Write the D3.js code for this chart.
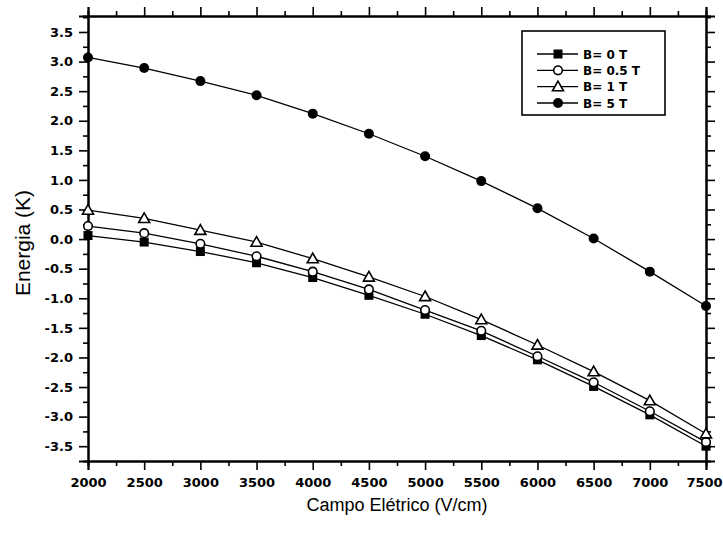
<!DOCTYPE html>
<html>
<head>
<meta charset="utf-8">
<script src="https://cdn.jsdelivr.net/npm/d3@7"></script>
<style>
  html, body { margin: 0; padding: 0; background: #fff; }
  svg { display: block; }
  text { font-family: "Liberation Sans", Arial, sans-serif; fill: #000; }
  .ticklab { font-family: "DejaVu Sans", sans-serif; font-weight: bold; }
</style>
</head>
<body>
<svg id="chart" width="723" height="534"></svg>
<script>
// Electric field values (V/cm)
const fields = [2000, 2500, 3000, 3500, 4000, 4500, 5000, 5500, 6000, 6500, 7000, 7500];

// Energy (K) for each magnetic field
const energyB0   = [0.06, -0.05, -0.21, -0.40, -0.65, -0.95, -1.27, -1.63, -2.04, -2.49, -2.97, -3.50];
const energyB05  = [0.22, 0.10, -0.08, -0.29, -0.55, -0.85, -1.20, -1.55, -1.98, -2.42, -2.91, -3.43];
const energyB1   = [0.49, 0.35, 0.15, -0.05, -0.33, -0.64, -0.97, -1.36, -1.79, -2.24, -2.73, -3.29];
const energyB5   = [3.07, 2.89, 2.67, 2.43, 2.12, 1.78, 1.40, 0.98, 0.52, 0.01, -0.55, -1.13];

const seriesLabels = ["B= 0 T", "B= 0.5 T", "B= 1 T", "B= 5 T"];
const seriesMarkers = ["square", "openCircle", "triangle", "circle"];

const xTicks = [2000, 2500, 3000, 3500, 4000, 4500, 5000, 5500, 6000, 6500, 7000, 7500];
const yTicks = [-3.5, -3.0, -2.5, -2.0, -1.5, -1.0, -0.5, 0.0, 0.5, 1.0, 1.5, 2.0, 2.5, 3.0, 3.5];

const series = [energyB0, energyB05, energyB1, energyB5].map((vals, i) => ({
  label: seriesLabels[i],
  marker: seriesMarkers[i],
  points: fields.map((f, j) => ({ x: f, y: vals[j] }))
}));

const svg = d3.select("#chart");
const plot = { left: 88, right: 706, top: 16, bottom: 461 };

const x = d3.scaleLinear().domain([2000, 7500]).range([plot.left, plot.right]);
const y = d3.scaleLinear().domain([-3.75, 3.77]).range([plot.bottom, plot.top]);

const fmtY = v => v.toFixed(1);

// Minor tick positions (halfway between majors)
const xMinor = d3.range(2250, 7500, 500);
const yMinor = d3.range(-3.75, 3.8, 0.5).filter(v => v > -3.74 && v < 3.76);

function drawAxis(gen, transform) {
  const g = svg.append("g").attr("transform", transform).call(gen);
  g.selectAll("path.domain").attr("stroke", "#000").attr("stroke-width", 2);
  g.selectAll(".tick line").attr("stroke", "#000").attr("stroke-width", 1.6);
  return g;
}

// Bottom axis
const gb = drawAxis(d3.axisBottom(x).tickValues(xTicks).tickFormat(d3.format("d"))
  .tickSizeOuter(0).tickSize(9).tickPadding(8), `translate(0,${plot.bottom})`);
gb.selectAll("text").attr("class", "ticklab").attr("font-size", 13);
// keep the last label inside the page edge
gb.selectAll(".tick text").filter(d => d === 7500).attr("dx", -2);
drawAxis(d3.axisBottom(x).tickValues(xMinor).tickFormat("").tickSizeOuter(0).tickSize(5),
  `translate(0,${plot.bottom})`);

// Top axis
drawAxis(d3.axisTop(x).tickValues(xTicks).tickFormat("").tickSizeOuter(0).tickSize(9),
  `translate(0,${plot.top})`);
drawAxis(d3.axisTop(x).tickValues(xMinor).tickFormat("").tickSizeOuter(0).tickSize(5),
  `translate(0,${plot.top})`);

// Left axis
const gl = drawAxis(d3.axisLeft(y).tickValues(yTicks).tickFormat(fmtY)
  .tickSizeOuter(0).tickSize(9).tickPadding(6), `translate(${plot.left},0)`);
gl.selectAll("text").attr("class", "ticklab").attr("font-size", 13);
drawAxis(d3.axisLeft(y).tickValues(yMinor).tickFormat("").tickSizeOuter(0).tickSize(5),
  `translate(${plot.left},0)`);

// Right axis
drawAxis(d3.axisRight(y).tickValues(yTicks).tickFormat("").tickSizeOuter(0).tickSize(9),
  `translate(${plot.right},0)`);
drawAxis(d3.axisRight(y).tickValues(yMinor).tickFormat("").tickSizeOuter(0).tickSize(5),
  `translate(${plot.right},0)`);

// Axis titles
svg.append("text")
  .attr("x", 397).attr("y", 511)
  .attr("text-anchor", "middle").attr("font-size", 18)
  .text("Campo Elétrico (V/cm)");
svg.append("text")
  .attr("transform", "translate(30,243) rotate(-90)")
  .attr("text-anchor", "middle").attr("font-size", 21)
  .text("Energia (K)");

// Marker shapes
function drawMarker(g, type, cx, cy) {
  if (type === "square") {
    g.append("rect").attr("x", cx - 4.5).attr("y", cy - 4.5).attr("width", 9).attr("height", 9)
      .attr("fill", "#000");
  } else if (type === "openCircle") {
    g.append("circle").attr("cx", cx).attr("cy", cy).attr("r", 4.3)
      .attr("fill", "#fff").attr("stroke", "#000").attr("stroke-width", 1.6);
  } else if (type === "triangle") {
    const s = 5.5;
    g.append("path")
      .attr("d", `M${cx},${cy - s}L${cx + s},${cy + s * 0.75}L${cx - s},${cy + s * 0.75}Z`)
      .attr("fill", "#fff").attr("stroke", "#000").attr("stroke-width", 1.6);
  } else {
    g.append("circle").attr("cx", cx).attr("cy", cy).attr("r", 5)
      .attr("fill", "#000");
  }
}

const line = d3.line().x(d => x(d.x)).y(d => y(d.y));

const data = svg.append("g");
series.forEach(s => {
  data.append("path").datum(s.points).attr("d", line)
    .attr("fill", "none").attr("stroke", "#000").attr("stroke-width", 1.3);
});
series.forEach(s => {
  const g = data.append("g");
  s.points.forEach(p => drawMarker(g, s.marker, x(p.x), y(p.y)));
});

// Legend
const legend = svg.append("g");
legend.append("rect").attr("x", 522).attr("y", 31).attr("width", 143).attr("height", 84)
  .attr("fill", "#fff").attr("stroke", "#000").attr("stroke-width", 1.6);
const legendY = d3.scalePoint().domain(seriesLabels).range([54, 103]);
series.forEach(s => {
  const ly = legendY(s.label);
  legend.append("line").attr("x1", 537).attr("x2", 578).attr("y1", ly).attr("y2", ly)
    .attr("stroke", "#000").attr("stroke-width", 1.3);
  drawMarker(legend, s.marker, 558, ly);
  legend.append("text").attr("class", "ticklab").attr("x", 583).attr("y", ly + 4.5)
    .attr("font-size", 12).text(s.label);
});
</script>
</body>
</html>
